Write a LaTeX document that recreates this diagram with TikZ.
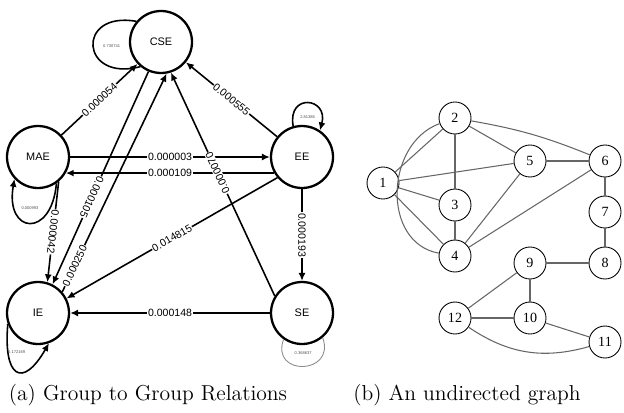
\documentclass[tikz,border=0pt]{standalone}
\usepackage{fontspec}
\newfontfamily\arialfont{Liberation Sans}
\newfontfamily\timesfont{Liberation Serif}
\usetikzlibrary{arrows.meta}

\begin{document}
\begin{tikzpicture}[
  x=0.02cm, y=-0.02cm,
  group/.style={draw, circle, line width=1.3pt, minimum size=1.24cm, inner sep=0pt, font=\arialfont\fontsize{6.2}{7}\selectfont},
  rel/.style={draw, line width=0.9pt, -{Latex[length=4.5pt,width=4pt]}},
  wt/.style={font=\arialfont\fontsize{6}{7}\selectfont, fill=white, inner sep=0.4pt, sloped},
  loopwt/.style={font=\arialfont\fontsize{2.3}{3}\selectfont, text=black!70},
  vertex/.style={draw, circle, line width=0.5pt, minimum size=0.64cm, inner sep=0pt, font=\timesfont\fontsize{8}{9}\selectfont},
  link/.style={draw=black!60, line width=0.6pt},
  subcap/.style={font=\fontsize{12.3}{14}\selectfont}
]
\useasboundingbox (0,0) rectangle (624,412);

% Group nodes
\node[group] (CSE) at (161,42) {CSE};
\node[group] (MAE) at (38,157) {MAE};
\node[group] (EE) at (302,157) {EE};
\node[group] (IE) at (38,313) {IE};
\node[group] (SE) at (302,313) {SE};

% Relations between groups
\draw[rel] (MAE) -- node[wt] {0.000054} (CSE);
\draw[rel] (EE) -- node[wt] {0.000555} (CSE);
\draw[rel] (MAE.east) -- node[wt] {0.000003} (EE.west);
\draw[rel] (EE.-150) -- node[wt] {0.000109} (MAE.-30);
\draw[rel] (MAE.-50) -- node[wt, allow upside down] {0.000042} (IE.73);
\draw[rel] (CSE.-113) -- node[wt, pos=0.59, allow upside down] {0.000105} (IE.63);
\draw[rel] (IE.41) -- node[wt, pos=0.12] {0.000250} (CSE.-80);
\draw[rel] (SE.148) -- node[wt, pos=0.55, allow upside down] {0.000070} (CSE.-72);
\draw[rel] (EE.220) -- node[wt] {0.014815} (IE.27);
\draw[rel] (EE) -- node[wt, allow upside down] {0.000193} (SE);
\draw[rel] (SE) -- node[wt] {0.000148} (IE);

% Self relations
\draw[line width=0.9pt] (CSE.140) to[out=170,in=195,looseness=3.5] node[loopwt, right=2pt] {0.730741} (CSE.-130);
\draw[rel] (EE.106) to[out=100,in=75,looseness=3.2] node[loopwt, below=3pt] {2.81386} (EE.56);
\draw[rel] (MAE.-55) to[out=-95,in=-100,looseness=3.4] node[loopwt, above=4pt] {0.000993} (MAE.-137);
\draw[rel] (IE.-160) to[out=-95,in=-120,looseness=3] node[loopwt, above=6pt] {0.172169} (IE.-70);
\draw[black!45, line width=0.5pt] (SE.-125) to[out=-110,in=-70,looseness=2.6] node[loopwt, above=3pt] {0.368637} (SE.-50);

% Undirected graph
\node[vertex] (n1) at (383,183) {1};
\node[vertex] (n2) at (455,118) {2};
\node[vertex] (n3) at (455,205) {3};
\node[vertex] (n4) at (455,256) {4};
\node[vertex] (n5) at (530,161) {5};
\node[vertex] (n6) at (605,161) {6};
\node[vertex] (n7) at (605,212) {7};
\node[vertex] (n8) at (605,263) {8};
\node[vertex] (n9) at (530,263) {9};
\node[vertex] (n10) at (530,318) {10};
\node[vertex] (n11) at (605,342) {11};
\node[vertex] (n12) at (455,318) {12};

\draw[link] (n1) -- (n2);
\draw[link] (n1) -- (n3);
\draw[link] (n1) -- (n4);
\draw[link] (n1) -- (n5);
\draw[link] (n2) -- (n3);
\draw[link] (n2) -- (n5);
\draw[link] (n2) to[bend left=6] (n6);
\draw[link] (n2) to[out=200,in=170,looseness=1.15] (n4);
\draw[link] (n3) -- (n4);
\draw[link] (n4) -- (n5);
\draw[link] (n4) -- (n6);
\draw[link] (n5) -- (n6);
\draw[link] (n6) -- (n7);
\draw[link] (n7) -- (n8);
\draw[link] (n8) -- (n9);
\draw[link] (n9) -- (n10);
\draw[link] (n9) -- (n12);
\draw[link] (n10) -- (n12);
\draw[link] (n10) -- (n11);
\draw[link] (n12) to[bend right=25] (n11);

% Captions
\node[subcap] (capa) at (148,395) {(a) Group to Group Relations};
\node[subcap] (capb) at (467,395) {(b) An undirected graph};
\end{tikzpicture}
\end{document}
